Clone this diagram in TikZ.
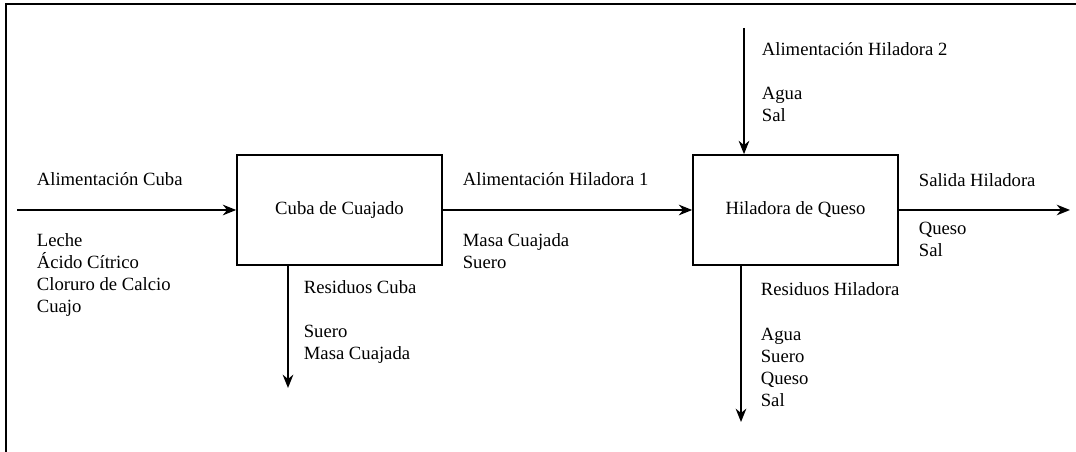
\documentclass[tikz,border=0pt]{standalone}
\usepackage{fontspec}
\setmainfont{Liberation Serif}
\usetikzlibrary{arrows.meta}

\begin{document}
\begin{tikzpicture}[x=.75pt,y=-.75pt,line width=1.3pt,font=\fontsize{14}{16.7}\selectfont,
  blockbox/.style={draw,minimum width=153.75pt,minimum height=82.5pt,inner sep=0pt},
  flow/.style={-{Stealth[length=10pt,width=8pt]}},
  lbl/.style={anchor=base west,align=left,inner sep=0pt}]
\useasboundingbox (0,0) rectangle (1076,452);
\draw[line width=1.6pt] (6,452)--(6,4)--(1076,4);
\node[blockbox] (cuba) at (339.5,210) {Cuba de Cuajado};
\node[blockbox] (hilad) at (795.5,210) {Hiladora de Queso};
\coordinate (entCuba) at (17,210);
\coordinate (salHil) at (1070,210);
\coordinate (resCuba) at (288,388);
\coordinate (entHil) at (744,28);
\coordinate (resHil) at (741,422);
\draw[flow] (entCuba)--(cuba.west);
\draw[flow] (cuba.east)--(hilad.west);
\draw[flow] (hilad.east)--(salHil);
\draw[flow] (resCuba |- cuba.south)--(resCuba);
\draw[flow] (entHil)--(entHil |- hilad.north);
\draw[flow] (resHil |- hilad.south)--(resHil);
\node[lbl] (tEntCuba) at (36,186) {Alimentación Cuba};
\node[lbl] (tLeche) at (36,313) {Leche\\Ácido Cítrico\\Cloruro de Calcio\\Cuajo};
\node[lbl] (tResCuba) at (303,360) {Residuos Cuba\\[16.7pt]Suero\\Masa Cuajada};
\node[lbl] (tEntHil1) at (462,186) {Alimentación Hiladora 1};
\node[lbl] (tMasa) at (462,269) {Masa Cuajada\\Suero};
\node[lbl] (tEntHil2) at (761,122) {Alimentación Hiladora 2\\[16.7pt]Agua\\Sal};
\node[lbl] (tSalHil) at (918,187) {Salida Hiladora};
\node[lbl] (tQueso) at (918,257) {Queso\\Sal};
\node[lbl] (tResHil) at (760,407) {Residuos Hiladora\\[16.7pt]Agua\\Suero\\Queso\\Sal};
\end{tikzpicture}
\end{document}
